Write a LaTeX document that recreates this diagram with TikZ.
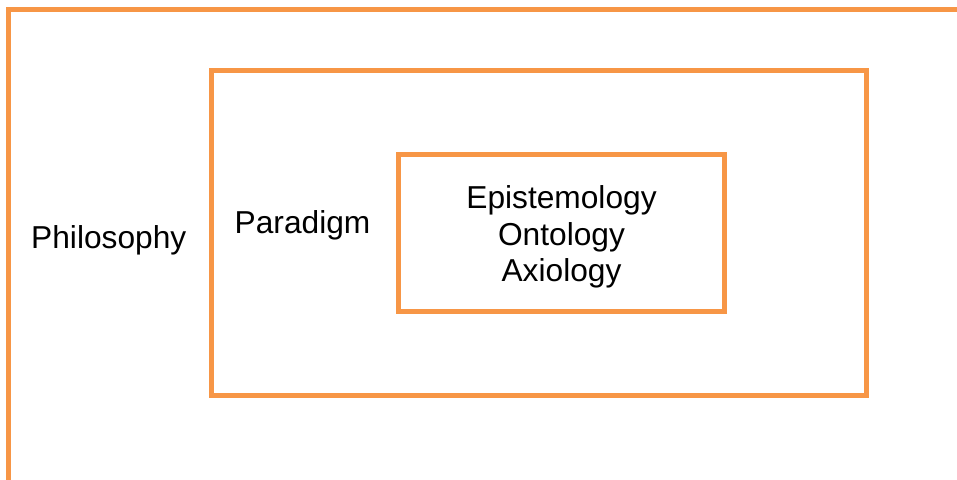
\documentclass[tikz,border=0pt]{standalone}
\usepackage{fontspec}
\setmainfont{Liberation Sans}
\definecolor{frameorange}{HTML}{F79646}
\begin{document}
\begin{tikzpicture}[x=1pt,y=-1pt,
  frame/.style={draw=frameorange,line width=5pt,inner sep=0pt,rectangle},
  label/.style={font=\fontsize{31.7}{36}\selectfont,inner sep=0pt,text=black}]
  \useasboundingbox (0,0) rectangle (957,479);
  \clip (0,0) rectangle (957,479);
  % outer frame, running off the right and bottom edges
  \coordinate (outerBL) at (8.5,500);
  \coordinate (outerTL) at (8.5,9.5);
  \coordinate (outerTR) at (980,9.5);
  \draw[draw=frameorange,line width=5pt] (outerBL) -- (outerTL) -- (outerTR);
  % nested boxes
  \node[frame,minimum width=654.5pt,minimum height=325.5pt] (paradigm) at (538.75,232.75) {};
  \node[frame,minimum width=326pt,minimum height=157pt] (core) at (561.5,233) {};
  % labels
  \node[label,anchor=base west] (philosophy) at (31,248) {Philosophy};
  \node[label,anchor=base west] (paradigmtxt) at (234.5,233.5) {Paradigm};
  \node[label,anchor=base] (epistemology) at (561.5,208.5) {Epistemology};
  \node[label,anchor=base] (ontology) at (561.5,245) {Ontology};
  \node[label,anchor=base] (axiology) at (561.5,281.5) {Axiology};
\end{tikzpicture}
\end{document}
